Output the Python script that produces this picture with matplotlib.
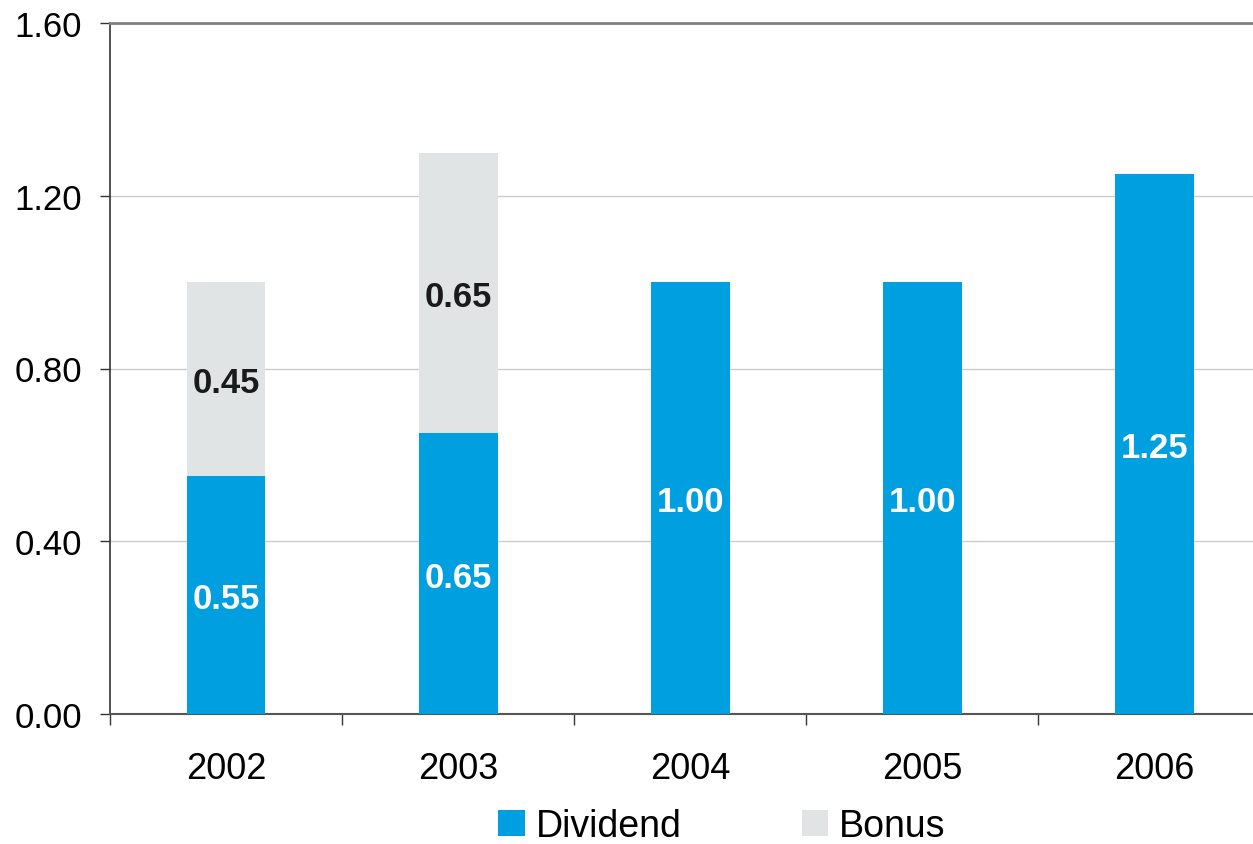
import numpy as np
import matplotlib.pyplot as plt

plt.rcParams['font.family'] = ['Liberation Sans', 'DejaVu Sans']

years = ["2002", "2003", "2004", "2005", "2006"]
dividend = [0.55, 0.65, 1.00, 1.00, 1.25]
bonus = [0.45, 0.65, 0.00, 0.00, 0.00]
y_ticks = [0.0, 0.4, 0.8, 1.2, 1.6]

BLUE = "#009FE0"
GREY = "#E1E4E5"

x = np.arange(len(years))
width = 0.34

fig = plt.figure(figsize=(12.53, 8.45), dpi=100)
ax = fig.add_axes([110 / 1253, 1 - 715 / 845, 1 - 110 / 1253, (715 - 24) / 845])

b1 = ax.bar(x, dividend, width, color=BLUE, label="Dividend", zorder=3)
b2 = ax.bar(x, bonus, width, bottom=dividend, color=GREY, label="Bonus", zorder=3)

# value labels centred in each segment
for xi, d, b in zip(x, dividend, bonus):
    ax.text(xi, d / 2, f"{d:.2f}", ha="center", va="center_baseline",
            fontsize=25, fontweight="bold", color="white", zorder=4)
    if b > 0:
        ax.text(xi, d + b / 2, f"{b:.2f}", ha="center", va="center_baseline",
                fontsize=25, fontweight="bold", color="#1a1a1a", zorder=4)

ax.set_xlim(-0.5, 4.425)
ax.set_ylim(0, 1.6)

ax.set_yticks(y_ticks)
ax.set_yticklabels([f"{v:.2f}" for v in y_ticks])
ax.tick_params(axis="y", length=7, width=1, color="#333333", pad=13,
               labelsize=25)

ax.set_xticks(x)
ax.set_xticklabels(years)
ax.set_xticks(np.arange(-0.5, 4.5, 1.0), minor=True)
ax.tick_params(axis="x", which="major", length=0, pad=27, labelsize=26)
ax.tick_params(axis="x", which="minor", length=8, width=1, color="#333333",
               direction="out")

for v in y_ticks[1:-1]:
    ax.axhline(v, color="#cccccc", lw=1, zorder=1)

ax.spines["right"].set_visible(False)
ax.spines["top"].set_color("#808080")
ax.spines["top"].set_linewidth(2)
ax.spines["left"].set_color("#333333")
ax.spines["bottom"].set_color("#555555")
ax.spines["left"].set_linewidth(1.2)
ax.spines["bottom"].set_linewidth(1.5)

fig.legend(handles=[b1, b2], loc="center", bbox_to_anchor=(722 / 1253, 1 - 827 / 845),
           ncol=2, frameon=False, fontsize=27, handlelength=0.7, handleheight=0.7,
           handletextpad=0.3, columnspacing=3.2, borderpad=0)

fig.savefig("out.png", dpi=100)
